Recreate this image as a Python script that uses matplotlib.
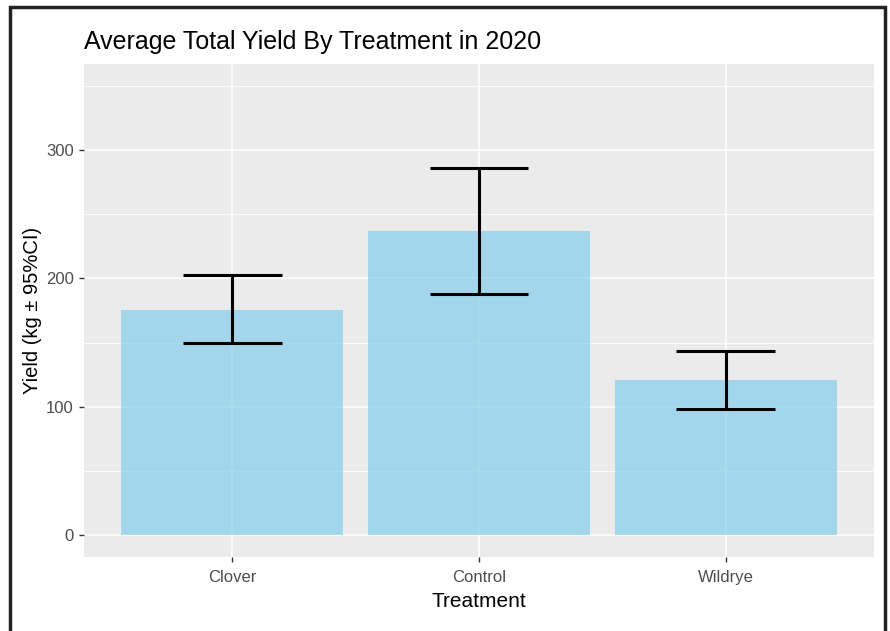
import matplotlib
matplotlib.use("Agg")
import matplotlib.pyplot as plt
from matplotlib.patches import Rectangle

plt.rcParams['font.family'] = ['Liberation Sans', 'DejaVu Sans']

treatments = ["Clover", "Control", "Wildrye"]
mean_yield = [175.5, 237.0, 121.0]
ci_low = [150.0, 187.5, 98.0]
ci_high = [203.0, 286.0, 143.5]

fig = plt.figure(figsize=(8.9, 6.31), dpi=100)
ax = fig.add_axes([84/890, 74/631, 790/890, 493/631])

panel_bg = "#EBEBEB"
ax.set_facecolor(panel_bg)
for s in ax.spines.values():
    s.set_visible(False)

x = list(range(len(treatments)))
ax.set_xlim(-0.6, len(treatments) - 0.4)
ax.set_ylim(-17.5, 367.5)

# grid: major and minor lines in white
for v in [0, 100, 200, 300]:
    ax.axhline(v, color="white", lw=1.1, zorder=0.5)
for v in [50, 150, 250, 350]:
    ax.axhline(v, color="white", lw=0.55, zorder=0.5)
for xi in x:
    ax.axvline(xi, color="white", lw=1.1, zorder=0.5)

ax.bar(x, mean_yield, width=0.9, color="skyblue", alpha=0.7, zorder=1, linewidth=0)

lo_err = [m - l for m, l in zip(mean_yield, ci_low)]
hi_err = [h - m for m, h in zip(mean_yield, ci_high)]
ax.errorbar(x, mean_yield, yerr=[lo_err, hi_err], fmt="none", ecolor="black",
            elinewidth=2.2, capsize=0, zorder=2)
for xi, l, h in zip(x, ci_low, ci_high):
    ax.hlines([l, h], xi - 0.2, xi + 0.2, color="black", lw=2.2, zorder=2)

ax.set_xticks(x)
ax.set_xticklabels(treatments)
ax.set_yticks([0, 100, 200, 300])
ax.tick_params(axis="both", colors="#333333", length=3.5, width=1, labelsize=12,
               labelcolor="#4D4D4D", pad=4)
ax.tick_params(axis="x", pad=6)

ax.set_xlabel("Treatment", fontsize=15, color="black", labelpad=5)
ax.set_ylabel("Yield (kg \u00b1 95%CI)", fontsize=14.5, color="black")
ax.yaxis.set_label_coords(-0.053, 0.5)
fig.text(84/890, 1 - 42/631, "Average Total Yield By Treatment in 2020",
         fontsize=18, color="black", ha="left", va="center")

# outer frame
fig.patches.append(Rectangle((10/890, -0.05), 875/890, 1.05 - 7/631,
                             transform=fig.transFigure, fill=False,
                             edgecolor="#222222", lw=2.5))

fig.savefig("out.png", dpi=100, facecolor="white")
